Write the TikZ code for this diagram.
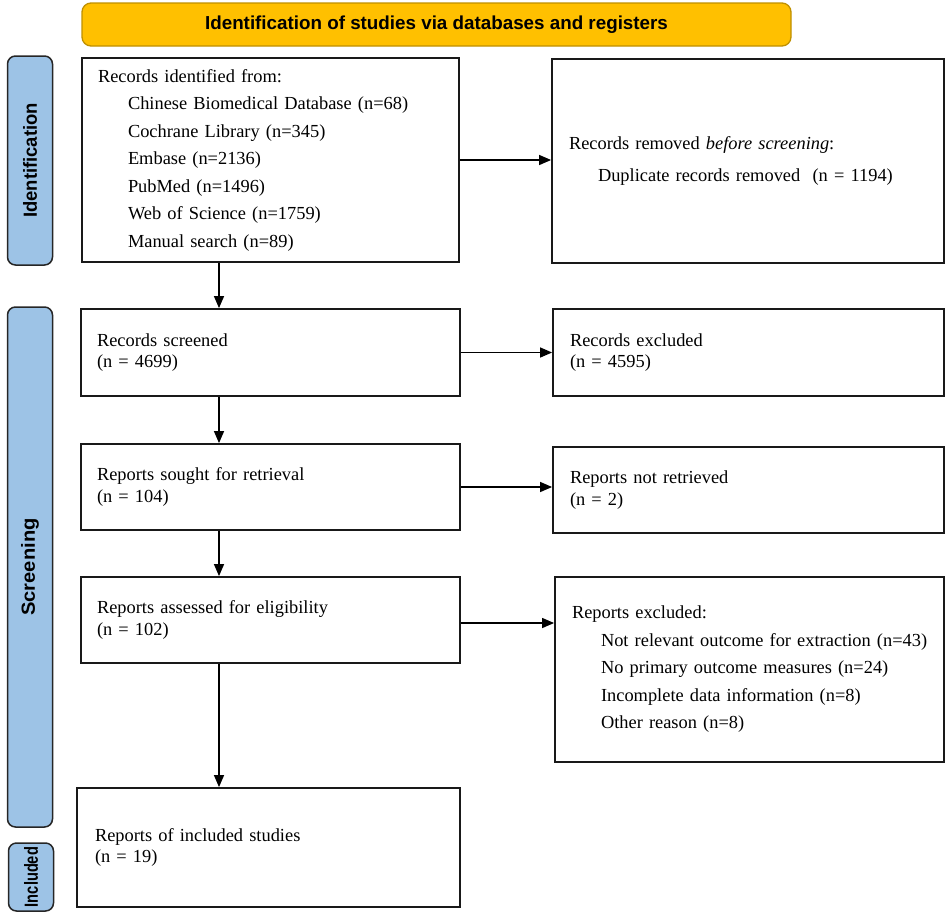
\documentclass[tikz,border=0pt]{standalone}
\usepackage{fontspec}
\setmainfont{Liberation Serif}
\newfontfamily\headfont{Liberation Sans}
\usetikzlibrary{arrows.meta}
\definecolor{hdrfill}{HTML}{FFC000}
\definecolor{hdrline}{HTML}{BF9000}
\definecolor{barfill}{HTML}{9DC3E6}
\definecolor{barline}{HTML}{262626}
\tikzset{
  hdr/.style={draw=hdrline, line width=1.3pt, fill=hdrfill, rounded corners=9pt,
    font=\headfont\bfseries\fontsize{18.8}{22}\selectfont, inner sep=0pt},
  bar/.style={draw=barline, line width=1.5pt, fill=barfill, rounded corners=8pt,
    inner sep=0pt},
  barlabel/.style={font=\headfont\bfseries\fontsize{19}{22}\selectfont, rotate=90},
  box/.style={draw=black!90, line width=1.8pt, align=left, inner ysep=0pt,
    font=\fontsize{18.4}{21.6}\selectfont},
  listbox/.style={box, font=\fontsize{18.4}{27.5}\selectfont},
  arr/.style={line width=1.3pt, -{Triangle[length=12pt,width=10pt]}},
}
\begin{document}
\begin{tikzpicture}[x=1pt,y=-1pt]
\useasboundingbox (0,0) rectangle (948,916);

% header and side bars
\node[hdr, minimum width=709pt, minimum height=43pt] (hdr) at (436.5,24.5)
  {Identification of studies via databases and registers};
\node[bar, minimum width=45pt, minimum height=209pt] (barid) at (30,160.5) {};
\node[barlabel] (labid) at (barid.center) {\scalebox{0.97}[1]{Identification}};
\node[bar, minimum width=45pt, minimum height=520pt] (barsc) at (30,567) {};
\node[barlabel] (labsc) at (barsc.center) {\scalebox{1.06}[1]{Screening}};
\node[bar, minimum width=45pt, minimum height=68pt] (barin) at (31,877) {};
\node[barlabel] (labin) at (barin.center) {\scalebox{0.77}[1]{Included}};

% left column
\node[listbox, minimum width=377pt, minimum height=204pt, text width=345pt, inner xsep=16pt] (b1) at (270.5,160)
  {Records identified from:\\
   \hspace*{30pt}Chinese Biomedical Database (n=68)\\
   \hspace*{30pt}Cochrane Library (n=345)\\
   \hspace*{30pt}Embase (n=2136)\\
   \hspace*{30pt}PubMed (n=1496)\\
   \hspace*{30pt}Web of Science (n=1759)\\
   \hspace*{30pt}Manual search (n=89)};
\node[box, minimum width=379pt, minimum height=87pt, text width=347pt, inner xsep=16pt] (s1) at (270.5,352.5)
  {Records screened\\(n = 4699)};
\node[box, minimum width=379pt, minimum height=86pt, text width=347pt, inner xsep=16pt] (s2) at (270.5,487)
  {Reports sought for retrieval\\(n = 104)};
\node[box, minimum width=379pt, minimum height=86pt, text width=347pt, inner xsep=16pt] (s3) at (270.5,620)
  {Reports assessed for eligibility\\(n = 102)};
\node[box, minimum width=383pt, minimum height=119pt, text width=347pt, inner xsep=18pt] (inc) at (268.5,847.5)
  {Reports of included studies\\(n = 19)};

% right column
\node[box, minimum width=392pt, minimum height=204pt, text width=358pt, inner xsep=17pt,
  font=\fontsize{18.4}{32}\selectfont] (r1) at (748,161)
  {Records removed \textit{before screening}:\\
   \hspace*{29pt}\mbox{Duplicate records removed\ \ (n = 1194)}};
\node[box, minimum width=391pt, minimum height=87pt, text width=357pt, inner xsep=17pt] (e1) at (748.5,352.5)
  {Records excluded\\(n = 4595)};
\node[box, minimum width=391pt, minimum height=86pt, text width=357pt, inner xsep=17pt] (e2) at (748.5,490)
  {Reports not retrieved\\(n = 2)};
\node[listbox, minimum width=389pt, minimum height=185pt, text width=355pt, inner xsep=17pt] (e3) at (749.5,669.5)
  {Reports excluded:\\
   \hspace*{29pt}\mbox{Not relevant outcome for extraction (n=43)}\\
   \hspace*{29pt}\mbox{No primary outcome measures (n=24)}\\
   \hspace*{29pt}\mbox{Incomplete data information (n=8)}\\
   \hspace*{29pt}\mbox{Other reason (n=8)}};

% connectors
\coordinate (ax) at (219,0);
\coordinate (ay) at (0,623);
\draw[arr] (b1.east) -- (b1.east -| r1.west);
\draw[arr] (s1.east) -- (e1.west);
\draw[arr] (s2.east) -- (s2.east -| e2.west);
\draw[arr] (s3.east |- ay) -- (e3.west |- ay);
\draw[arr] (b1.south -| ax) -- (s1.north -| ax);
\draw[arr] (s1.south -| ax) -- (s2.north -| ax);
\draw[arr] (s2.south -| ax) -- (s3.north -| ax);
\draw[arr] (s3.south -| ax) -- (inc.north -| ax);
\end{tikzpicture}
\end{document}
